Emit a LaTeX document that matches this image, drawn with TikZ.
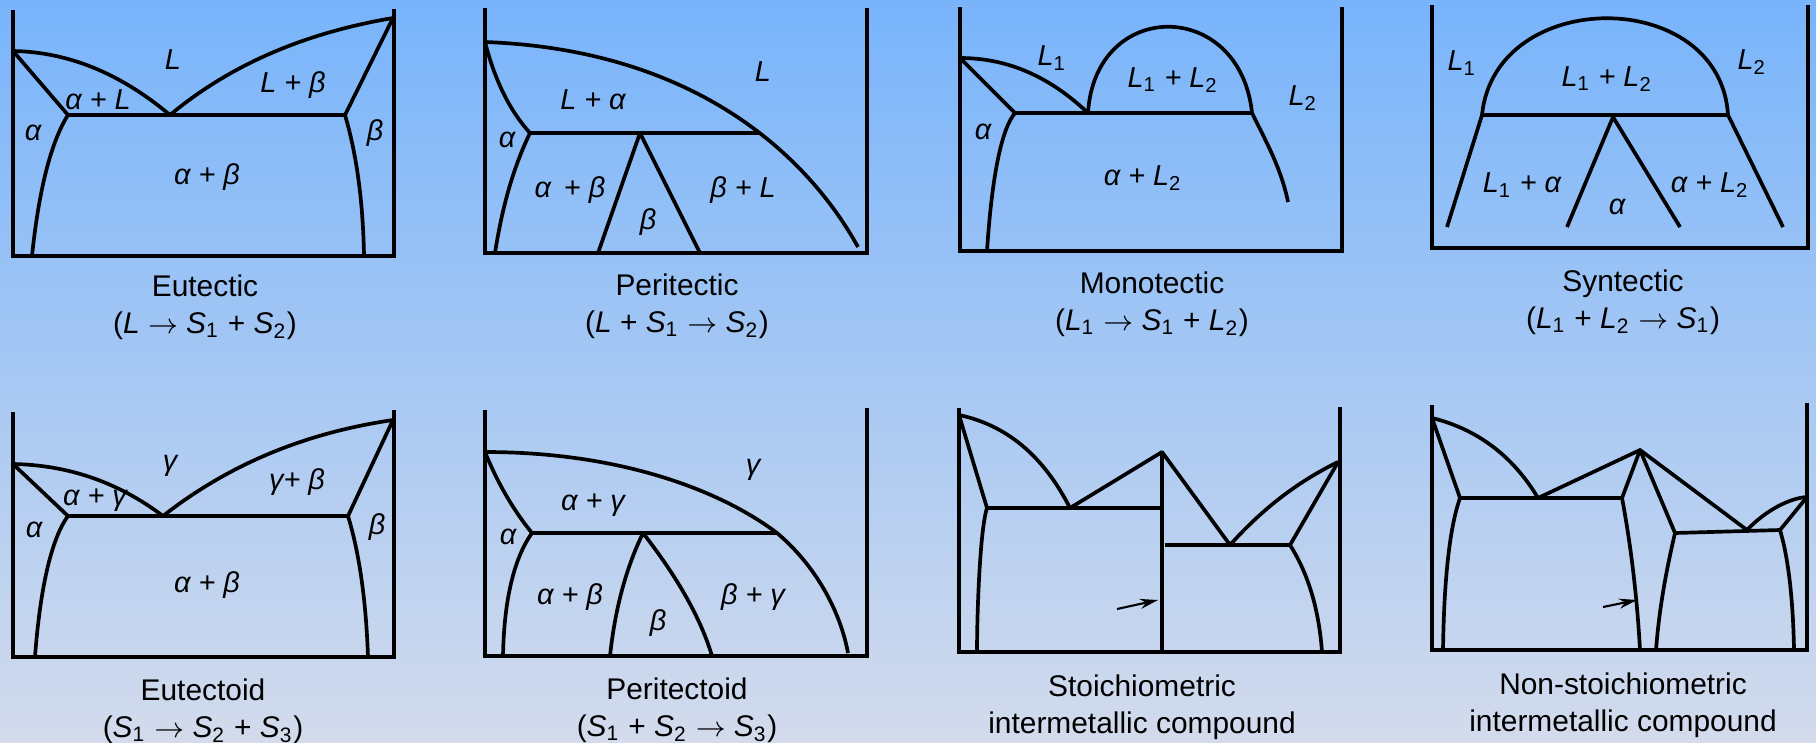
\documentclass[tikz,border=0pt]{standalone}
\usepackage{fontspec}
\setmainfont{Liberation Sans}
\usetikzlibrary{arrows.meta}
\definecolor{bgtop}{HTML}{78B4FB}
\definecolor{bgbottom}{HTML}{D3DBEC}
\newcommand{\idx}[1]{\textsubscript{\upshape #1}}

\begin{document}
\begin{tikzpicture}[
    x=0.01cm, y=-0.01cm,
    frame/.style={line width=1.15pt, line join=miter},
    phase/.style={line width=1.05pt, line join=round},
    region/.style={font=\fontsize{8.2}{9.5}\selectfont\itshape, inner sep=0pt},
    caption/.style={font=\fontsize{8.5}{10.5}\selectfont, align=center, inner sep=0pt},
    pointer/.style={-{Stealth[length=1.8mm, width=1mm]}, line width=0.6pt},
]

% Background
\shade[top color=bgtop, bottom color=bgbottom] (0,0) rectangle (1816,742);
\useasboundingbox (0,0) rectangle (1816,742);

% Eutectic
\draw[frame] (13,10) -- (13,256) -- (394,256) -- (394,9);
\draw[phase] (13,51) .. controls (68,52) and (120,73) .. (170,115) .. controls (230,65) and (304,33) .. (393,18);
\draw[phase] (13,51) -- (68,115) -- (345,115) -- (393,18);
\draw[phase] (68,115) .. controls (51,142) and (39,189) .. (32,256);
\draw[phase] (345,115) .. controls (356,152) and (363,199) .. (364,256);
\node[region] (eutL) at (173,60) {L};
\node[region] (eutaL) at (98,100) {α + L};
\node[region] (eutLb) at (293,85) {L + β};
\node[region] (euta) at (33,133) {α};
\node[region] (eutb) at (375,133) {β};
\node[region] (eutab) at (207,177) {α + β};
\node[caption] (eutcap) at (205,307) {Eutectic\\(\textit{L} $\rightarrow$ \textit{S}\idx{1} + \textit{S}\idx{2})};

% Peritectic
\draw[frame] (485,8) -- (485,253) -- (867,253) -- (867,8);
\draw[phase] (485,42) .. controls (700,50) and (810,160) .. (858,247);
\draw[phase] (485,42) .. controls (495,81) and (510,111) .. (530,133) -- (760,133);
\draw[phase] (598,253) -- (640,133) -- (700,253);
\draw[phase] (530,133) .. controls (513,168) and (502,208) .. (495,253);
\node[region] (periL) at (763,72) {L};
\node[region] (perLa) at (593,100) {L + α};
\node[region] (peria) at (507,140) {α};
\node[region] (periab) at (570,190) {α \,+ β};
\node[region] (perib) at (648,222) {β};
\node[region] (peribL) at (743,190) {β + L};
\node[caption] (pericap) at (677,306) {Peritectic\\(\textit{L} + \textit{S}\idx{1} $\rightarrow$ \textit{S}\idx{2})};

% Monotectic
\draw[frame] (960,7) -- (960,251) -- (1342,251) -- (1342,7);
\draw[phase] (960,58) .. controls (1007,58) and (1049,76) .. (1088,113);
\draw[phase] (960,58) -- (1015,113) -- (1252,113);
\draw[phase] (1088,113) .. controls (1095,-2) and (1240,-2) .. (1252,113) .. controls (1264,138) and (1281,167) .. (1288,202);
\draw[phase] (1015,113) .. controls (1002,128) and (992,174) .. (987,251);
\node[region] (monoLa) at (1052,58) {L\idx{1}};
\node[region] (monoLL) at (1173,80) {L\idx{1} + L\idx{2}};
\node[region] (monoLb) at (1303,98) {L\idx{2}};
\node[region] (monoa) at (983,132) {α};
\node[region] (monoaL) at (1143,178) {α + L\idx{2}};
\node[caption] (monocap) at (1152,304) {Monotectic\\(\textit{L}\idx{1} $\rightarrow$ \textit{S}\idx{1} + \textit{L}\idx{2})};

% Syntectic
\draw[frame] (1432,5) -- (1432,248) -- (1808,248) -- (1808,5);
\draw[phase] (1447,227) -- (1482,115) .. controls (1495,-14) and (1720,-14) .. (1728,115) -- (1783,227);
\draw[phase] (1482,115) -- (1728,115);
\draw[phase] (1567,227) -- (1613,117) -- (1680,227);
\node[region] (synLa) at (1462,63) {L\idx{1}};
\node[region] (synLL) at (1607,79) {L\idx{1} + L\idx{2}};
\node[region] (synLb) at (1752,62) {L\idx{2}};
\node[region] (synLa2) at (1522,185) {L\idx{1} + α};
\node[region] (syna) at (1617,207) {α};
\node[region] (synaL) at (1710,185) {α + L\idx{2}};
\node[caption] (syncap) at (1623,302) {Syntectic\\(\textit{L}\idx{1} + \textit{L}\idx{2} $\rightarrow$ \textit{S}\idx{1})};

% Eutectoid
\draw[frame] (13,412) -- (13,657) -- (394,657) -- (394,410);
\draw[phase] (13,464) .. controls (68,465) and (118,482) .. (163,516) .. controls (228,465) and (304,433) .. (393,420);
\draw[phase] (13,464) -- (68,516) -- (348,516) -- (393,420);
\draw[phase] (68,516) .. controls (51,539) and (40,590) .. (35,657);
\draw[phase] (348,516) .. controls (359,552) and (366,599) .. (368,657);
\node[region] (eudg) at (170,466) {γ};
\node[region] (eudag) at (95,500) {α + γ};
\node[region] (eudgb) at (297,482) {γ+ β};
\node[region] (euda) at (34,530) {α};
\node[region] (eudb) at (377,527) {β};
\node[region] (eudab) at (207,585) {α + β};
\node[caption] (eudcap) at (203,711) {Eutectoid\\(\textit{S}\idx{1} $\rightarrow$ \textit{S}\idx{2} + \textit{S}\idx{3})};

% Peritectoid
\draw[frame] (485,410) -- (485,656) -- (867,656) -- (867,408);
\draw[phase] (485,452) .. controls (620,452) and (720,490) .. (777,533) .. controls (815,565) and (840,610) .. (848,653);
\draw[phase] (485,452) .. controls (498,484) and (514,511) .. (532,533) -- (777,533);
\draw[phase] (610,656) .. controls (615,609) and (626,568) .. (643,533) .. controls (678,578) and (701,619) .. (712,656);
\draw[phase] (532,533) .. controls (514,558) and (504,600) .. (503,656);
\node[region] (perdg) at (753,470) {γ};
\node[region] (perdag) at (593,505) {α + γ};
\node[region] (perda) at (508,537) {α};
\node[region] (perdab) at (570,597) {α + β};
\node[region] (perdb) at (658,623) {β};
\node[region] (perdbg) at (753,597) {β + γ};
\node[caption] (perdcap) at (677,710) {Peritectoid\\(\textit{S}\idx{1} + \textit{S}\idx{2} $\rightarrow$ \textit{S}\idx{3})};

% Stoichiometric compound
\draw[frame] (959,408) -- (959,652) -- (1340,652) -- (1340,407);
\draw[phase] (959,415) .. controls (1006,425) and (1043,455) .. (1070,508) -- (1162,452) -- (1230,545) .. controls (1263,508) and (1299,481) .. (1338,462);
\draw[phase] (959,415) -- (987,508) -- (1160,508);
\draw[phase] (1162,452) -- (1162,652);
\draw[phase] (1165,545) -- (1290,545) -- (1338,462);
\draw[phase] (1290,545) .. controls (1309,575) and (1319,611) .. (1322,652);
\draw[phase] (987,508) .. controls (980,529) and (977,611) .. (977,652);
\coordinate (stoichtail) at (1117,609);
\coordinate (stoichtip) at (1158,600);
\draw[pointer] (stoichtail) -- (stoichtip);
\node[caption] (stoichcap) at (1142,707) {Stoichiometric\\intermetallic compound};

% Non-stoichiometric compound
\draw[frame] (1432,405) -- (1432,650) -- (1807,650) -- (1807,403);
\draw[phase] (1432,418) .. controls (1477,429) and (1513,456) .. (1538,498) -- (1640,450) -- (1747,530) .. controls (1766,510) and (1790,498) .. (1807,497);
\draw[phase] (1432,418) -- (1460,498) -- (1622,498) -- (1640,450) -- (1675,533) -- (1780,530) -- (1807,497);
\draw[phase] (1622,498) .. controls (1631,546) and (1637,597) .. (1640,650);
\draw[phase] (1675,533) .. controls (1666,571) and (1659,610) .. (1656,650);
\draw[phase] (1460,498) .. controls (1450,526) and (1444,577) .. (1443,650);
\draw[phase] (1780,530) .. controls (1788,557) and (1793,597) .. (1794,650);
\coordinate (nonstoichtail) at (1603,607);
\coordinate (nonstoichtip) at (1637,600);
\draw[pointer] (nonstoichtail) -- (nonstoichtip);
\node[caption] (nonstoichcap) at (1623,705) {Non-stoichiometric\\intermetallic compound};

\end{tikzpicture}
\end{document}
